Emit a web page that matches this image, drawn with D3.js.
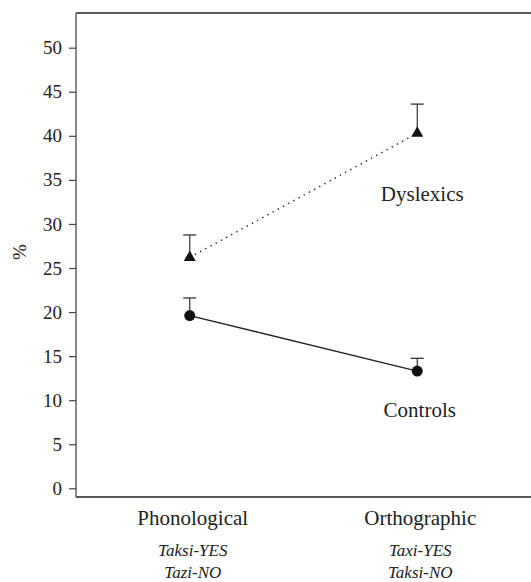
<!DOCTYPE html>
<html>
<head>
<meta charset="utf-8">
<script src="https://cdn.jsdelivr.net/npm/d3@7"></script>
<style>
  body { margin: 0; background: #fff; }
  svg text { font-family: "Liberation Serif", "Times New Roman", Times, "DejaVu Serif", serif; fill: #222; }
</style>
</head>
<body>
<div id="chart"></div>
<script>
// categories and sub labels
var categories = ["Phonological", "Orthographic"];
var subLabels = [["Taksi-YES", "Tazi-NO"], ["Taxi-YES", "Taksi-NO"]];

// series values (mean %, upper error)
var dyslexics = [26.2, 40.3];
var dyslexicsErr = [2.55, 3.3];
var controls = [19.6, 13.3];
var controlsErr = [2.0, 1.45];

var yTicks = [0, 5, 10, 15, 20, 25, 30, 35, 40, 45, 50];

var width = 531;
var height = 582;

// frame
var left = 76;
var frameTop = 13;
var frameBottom = 497;

var svg = d3.select("#chart")
  .append("svg")
  .attr("width", width)
  .attr("height", height);

var xScale = d3.scalePoint()
  .domain(categories)
  .range([left, width])
  .padding(0.5);

var yScale = d3.scaleLinear()
  .domain([0, 50])
  .range([488.3, 47.7]);

// frame lines
svg.append("line")
  .attr("x1", left).attr("x2", width)
  .attr("y1", frameTop).attr("y2", frameTop)
  .attr("stroke", "#222").attr("stroke-width", 1.4);

svg.append("line")
  .attr("x1", left).attr("x2", width)
  .attr("y1", frameBottom).attr("y2", frameBottom)
  .attr("stroke", "#222").attr("stroke-width", 1.4);

svg.append("line")
  .attr("x1", left).attr("x2", left)
  .attr("y1", frameTop).attr("y2", frameBottom)
  .attr("stroke", "#555").attr("stroke-width", 1.4);

// y axis
var yAxis = d3.axisLeft(yScale)
  .tickValues(yTicks)
  .tickSize(7)
  .tickPadding(7);

var gy = svg.append("g")
  .attr("transform", "translate(" + left + ",0)")
  .call(yAxis)
  .attr("font-family", null)
  .attr("font-size", null);

gy.select(".domain").remove();
gy.selectAll(".tick line").attr("stroke", "#444").attr("stroke-width", 1.2);
gy.selectAll(".tick text")
  .attr("font-size", "19px")
  .attr("fill", "#222");

svg.append("text")
  .attr("transform", "translate(26,252) rotate(-90)")
  .attr("text-anchor", "middle")
  .attr("font-size", "19px")
  .text("%");

// x labels
categories.forEach(function(c, i) {
  var cx = xScale(c) + 3;
  svg.append("text")
    .attr("x", cx).attr("y", 525)
    .attr("text-anchor", "middle")
    .attr("font-size", "21px")
    .text(c);
  subLabels[i].forEach(function(s, j) {
    svg.append("text")
      .attr("x", cx).attr("y", 555.5 + j * 22.7)
      .attr("text-anchor", "middle")
      .attr("font-size", "17px")
      .attr("font-style", "italic")
      .text(s);
  });
});

function drawSeries(values, errs, dash, symbol, size) {
  var pts = categories.map(function(c, i) {
    return { x: xScale(c), y: yScale(values[i]), top: yScale(values[i] + errs[i]) };
  });

  var line = d3.line()
    .x(function(d) { return d.x; })
    .y(function(d) { return d.y; });

  svg.append("path")
    .datum(pts)
    .attr("d", line)
    .attr("fill", "none")
    .attr("stroke", "#222")
    .attr("stroke-width", dash ? 1.5 : 1.3)
    .attr("stroke-dasharray", dash ? "1.3,4.6" : null);

  // error bars (upper only)
  svg.selectAll(null).data(pts).enter()
    .append("line")
    .attr("x1", function(d) { return d.x; })
    .attr("x2", function(d) { return d.x; })
    .attr("y1", function(d) { return d.y; })
    .attr("y2", function(d) { return d.top; })
    .attr("stroke", "#333").attr("stroke-width", 1.2);

  svg.selectAll(null).data(pts).enter()
    .append("line")
    .attr("x1", function(d) { return d.x - 6.5; })
    .attr("x2", function(d) { return d.x + 6.5; })
    .attr("y1", function(d) { return d.top; })
    .attr("y2", function(d) { return d.top; })
    .attr("stroke", "#333").attr("stroke-width", 1.3);

  svg.selectAll(null).data(pts).enter()
    .append("path")
    .attr("d", d3.symbol().type(symbol).size(size))
    .attr("transform", function(d) { return "translate(" + d.x + "," + d.y + ")"; })
    .attr("fill", "#111");
}

drawSeries(dyslexics, dyslexicsErr, true, d3.symbolTriangle, 62);
drawSeries(controls, controlsErr, false, d3.symbolCircle, 95);

// series labels
svg.append("text")
  .attr("x", xScale(categories[1]) + 5).attr("y", 201)
  .attr("text-anchor", "middle")
  .attr("font-size", "21px")
  .text("Dyslexics");

svg.append("text")
  .attr("x", xScale(categories[1]) + 2.5).attr("y", 416.5)
  .attr("text-anchor", "middle")
  .attr("font-size", "21px")
  .text("Controls");
</script>
</body>
</html>
